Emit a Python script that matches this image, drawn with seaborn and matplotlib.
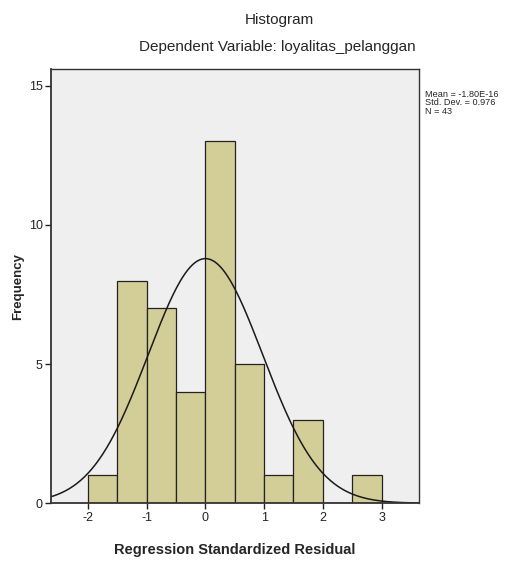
import numpy as np
import matplotlib
matplotlib.use('Agg')
import matplotlib.pyplot as plt
import seaborn as sns

# binned residual counts (bin width 0.5)
bin_edges = [-2.0, -1.5, -1.0, -0.5, 0.0, 0.5, 1.0, 1.5, 2.0, 2.5, 3.0]
counts = [1, 8, 7, 4, 13, 5, 1, 3, 0, 1]
mean_val = -1.80e-16
std_val = 0.976
n_obs = 43
x_ticks = [-2, -1, 0, 1, 2, 3]
y_ticks = [0, 5, 10, 15]

sns.set_style('white')
plt.rcParams['font.family'] = ['Liberation Sans', 'DejaVu Sans']
plt.rcParams['axes.unicode_minus'] = False

fig = plt.figure(figsize=(5.05, 5.61), dpi=100)
ax = fig.add_axes([0.101, 0.103, 0.729, 0.774])
ax.set_facecolor('#efefef')

centers = [(a + b) / 2 for a, b in zip(bin_edges[:-1], bin_edges[1:])]
sns.histplot(x=centers, weights=counts, bins=bin_edges, color='#d3ce97',
             edgecolor='#222222', linewidth=0.9, alpha=1, ax=ax)

# normal curve scaled to the histogram
xs = np.linspace(-2.63, 3.64, 300)
bw = bin_edges[1] - bin_edges[0]
ys = n_obs * bw * np.exp(-0.5 * ((xs - mean_val) / std_val) ** 2) / (std_val * np.sqrt(2 * np.pi))
sns.lineplot(x=xs, y=ys, color='#1a1a1a', linewidth=1.1, ax=ax)

ax.set_xlim(-2.63, 3.64)
ax.set_ylim(0, 15.6)
ax.set_xticks(x_ticks)
ax.set_yticks(y_ticks)
ax.tick_params(axis='both', direction='out', length=4, width=1, labelsize=9,
               bottom=True, left=True, colors='#222222', pad=2)
for s in ax.spines.values():
    s.set_color('#333333')
    s.set_linewidth(1)
ax.spines['left'].set_linewidth(1.3)
ax.spines['bottom'].set_linewidth(1.3)

ax.set_xlabel('Regression Standardized Residual', fontsize=10.5, fontweight='bold', labelpad=14)
ax.set_ylabel('')
fig.text(0.036, 0.49, 'Frequency', rotation=90, ha='center', va='center',
         fontsize=9.5, fontweight='bold')

fig.text(0.553, 0.964, 'Histogram', ha='center', va='center', fontsize=11)
fig.text(0.55, 0.916, 'Dependent Variable: loyalitas_pelanggan', ha='center', va='center', fontsize=11)
fig.text(0.842, 0.84, f'Mean = -1.80E-16\nStd. Dev. = {std_val}\nN = {n_obs}',
         ha='left', va='top', fontsize=6.6, linespacing=0.95)

fig.savefig('out.png', dpi=100)
